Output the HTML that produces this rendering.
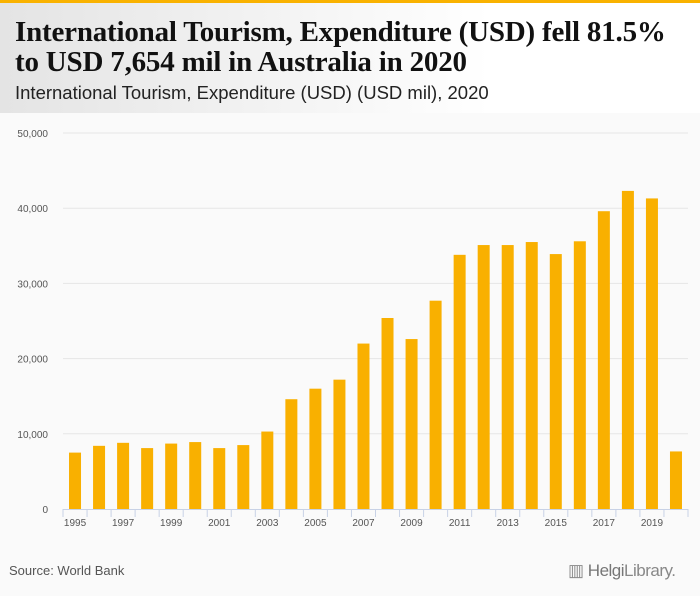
<!DOCTYPE html>
<html><head><meta charset="utf-8"><style>
body{margin:0;width:700px;height:596px;background:#fafafa;font-family:"Liberation Sans",sans-serif;overflow:hidden;position:relative}
#topbar{position:absolute;left:0;top:0;width:700px;height:3px;background:#f9b200}
#header{position:absolute;left:0;top:3px;width:700px;height:110px;background:linear-gradient(90deg,#e4e4e4,#ffffff 70%)}
#title{position:absolute;left:15px;top:14px;font-family:"Liberation Serif",serif;font-weight:bold;font-size:29px;line-height:30px;color:#111;letter-spacing:-0.2px}
#subtitle{position:absolute;left:15px;top:79px;font-size:18.5px;color:#222}
#source{position:absolute;left:9px;top:563px;font-size:13px;color:#555}
#logo{position:absolute;left:568px;top:561px;font-size:17px;color:#888;letter-spacing:-0.5px}
</style></head><body>
<div id="topbar"></div>
<div id="header">
<div id="title">International Tourism, Expenditure (USD) fell 81.5%<br>to USD 7,654 mil in Australia in 2020</div>
<div id="subtitle">International Tourism, Expenditure (USD) (USD mil), 2020</div>
</div>
<svg id="chart" width="700" height="596" style="position:absolute;left:0;top:0"></svg>
<div id="source">Source: World Bank</div>
<div id="logo">▥ <b style="font-weight:normal;color:#777">Helgi</b>Library.</div>
<script>
const years=[1995,1996,1997,1998,1999,2000,2001,2002,2003,2004,2005,2006,2007,2008,2009,2010,2011,2012,2013,2014,2015,2016,2017,2018,2019,2020];
const values=[7500,8400,8800,8100,8700,8900,8100,8500,10300,14600,16000,17200,22000,25400,22600,27700,33800,35100,35100,35500,33900,35600,39600,42300,41300,7654];
const yTicks=[0,10000,20000,30000,40000,50000];
const yTickLabels=["0","10,000","20,000","30,000","40,000","50,000"];
const svg=document.getElementById('chart');const NS='http://www.w3.org/2000/svg';
const x0=63,x1=688,yBase=509,yTop=133,yMax=50000;
const step=(x1-x0)/years.length;
function y(v){return yBase-(v/yMax)*(yBase-yTop);}
function xc(i){return x0+step*(i+0.5);}
function mk(t,a){const e=document.createElementNS(NS,t);for(const k in a)e.setAttribute(k,a[k]);svg.appendChild(e);return e;}
yTicks.forEach((t,i)=>{
 if(t>0){const g=mk('line',{x1:x0,x2:x1,y1:y(t),y2:y(t),stroke:'#e6e6e6','stroke-width':1});
 
 }
 const l=mk('text',{x:48,y:y(t)+4,'text-anchor':'end','font-size':10,fill:'#555','font-family':'Liberation Sans,sans-serif'});
 l.textContent=yTickLabels[i];
 
 
});
values.forEach((v,i)=>{
 const r=mk('rect',{x:xc(i)-6,y:y(v),width:12,height:yBase-y(v),fill:'#f9b000'});
 
 
});
const ax=mk('line',{x1:x0,x2:x1,y1:yBase+0.5,y2:yBase+0.5,stroke:'#c8d2e6','stroke-width':1});


for(let i=0;i<=years.length;i++){
 const t=mk('line',{x1:x0+step*i,x2:x0+step*i,y1:yBase,y2:yBase+8,stroke:'#c8d2e6'});
 
 
}
years.forEach((yr,i)=>{
 if(i%2===0){const l=mk('text',{x:xc(i),y:yBase+17,'text-anchor':'middle','font-size':10,fill:'#555','font-family':'Liberation Sans,sans-serif'});
 l.textContent=yr;
 
 }
});
</script>
</body></html>
